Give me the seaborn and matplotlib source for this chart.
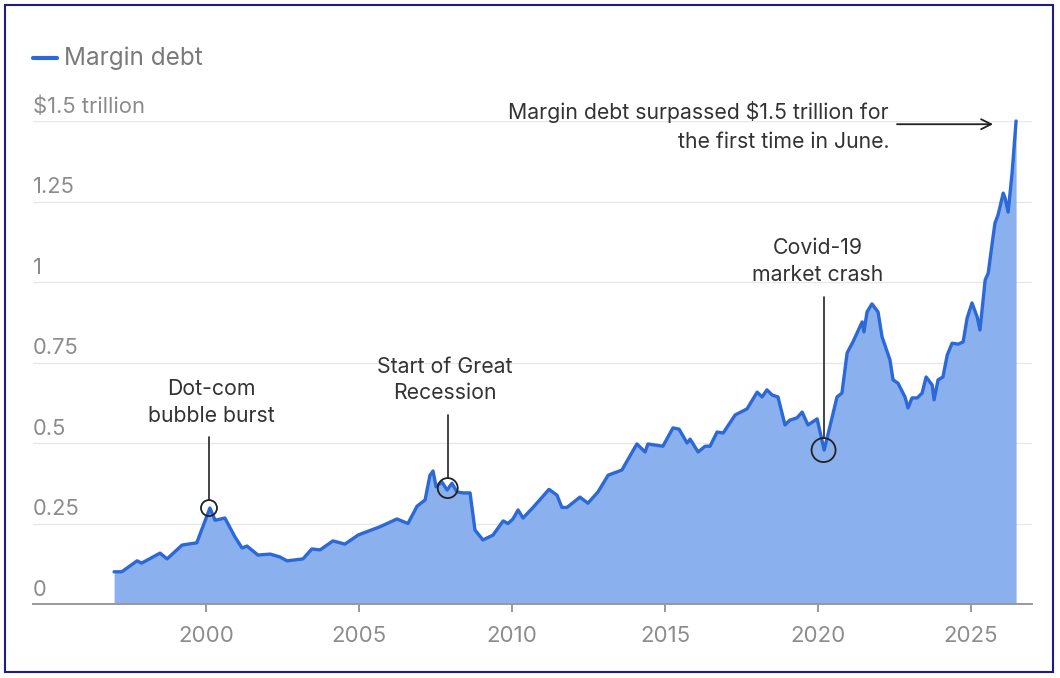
import matplotlib
matplotlib.use("Agg")
import matplotlib.pyplot as plt
import seaborn as sns
import pandas as pd
from matplotlib.patches import Rectangle

# ---- data ----
years = [1997.0, 1997.25, 1997.75, 1997.9, 1998.5, 1998.73, 1999.22, 1999.7, 2000.13, 2000.3,
         2000.62, 2000.95, 2001.18, 2001.34, 2001.7, 2002.1, 2002.42, 2002.65, 2003.17, 2003.46,
         2003.73, 2004.15, 2004.54, 2004.97, 2005.13, 2005.69, 2006.24, 2006.6, 2006.9, 2007.16,
         2007.32, 2007.42, 2007.52, 2007.71, 2007.88, 2008.04, 2008.2, 2008.4, 2008.63, 2008.79,
         2009.05, 2009.38, 2009.71, 2009.87, 2010.03, 2010.2, 2010.36, 2010.69, 2011.21, 2011.47,
         2011.63, 2011.8, 2012.22, 2012.48, 2012.81, 2013.14, 2013.59, 2014.08, 2014.35, 2014.44,
         2014.93, 2015.26, 2015.46, 2015.72, 2015.82, 2016.08, 2016.31, 2016.47, 2016.7, 2016.9,
         2017.29, 2017.68, 2018.01, 2018.17, 2018.33, 2018.5, 2018.69, 2018.92, 2019.08, 2019.31,
         2019.48, 2019.67, 2019.97, 2020.2, 2020.62, 2020.78, 2020.95, 2021.14, 2021.44, 2021.5,
         2021.6, 2021.76, 2021.96, 2022.09, 2022.35, 2022.45, 2022.61, 2022.84, 2022.94, 2023.07,
         2023.24, 2023.4, 2023.53, 2023.73, 2023.79, 2023.92, 2024.08, 2024.22, 2024.38, 2024.58,
         2024.74, 2024.87, 2025.03, 2025.2, 2025.29, 2025.46, 2025.56, 2025.69, 2025.78, 2025.88,
         2026.05, 2026.11, 2026.21, 2026.34, 2026.47]
margin_debt = [0.100, 0.100, 0.134, 0.127, 0.158, 0.140, 0.183, 0.190, 0.298, 0.260,
               0.267, 0.208, 0.174, 0.180, 0.152, 0.155, 0.146, 0.134, 0.140, 0.171,
               0.168, 0.196, 0.186, 0.214, 0.220, 0.240, 0.264, 0.250, 0.304, 0.323,
               0.400, 0.413, 0.364, 0.379, 0.354, 0.375, 0.348, 0.345, 0.345, 0.230,
               0.199, 0.214, 0.258, 0.250, 0.264, 0.292, 0.267, 0.300, 0.356, 0.338,
               0.300, 0.300, 0.332, 0.313, 0.348, 0.400, 0.416, 0.497, 0.472, 0.497,
               0.490, 0.547, 0.543, 0.500, 0.512, 0.472, 0.490, 0.490, 0.534, 0.531,
               0.587, 0.606, 0.658, 0.643, 0.665, 0.649, 0.643, 0.556, 0.571, 0.578,
               0.596, 0.556, 0.575, 0.478, 0.643, 0.655, 0.780, 0.814, 0.876, 0.845,
               0.907, 0.932, 0.907, 0.830, 0.758, 0.696, 0.686, 0.643, 0.609, 0.640,
               0.640, 0.655, 0.705, 0.680, 0.634, 0.696, 0.705, 0.773, 0.810, 0.807,
               0.814, 0.888, 0.935, 0.891, 0.851, 1.006, 1.028, 1.121, 1.183, 1.208,
               1.276, 1.261, 1.217, 1.339, 1.500]

y_ticks = [0, 0.25, 0.5, 0.75, 1, 1.25, 1.5]
y_tick_labels = ["0", "0.25", "0.5", "0.75", "1", "1.25", "$1.5 trillion"]
x_ticks = [2000, 2005, 2010, 2015, 2020, 2025]
x_tick_labels = ["2000", "2005", "2010", "2015", "2020", "2025"]

events = ["Dot-com\nbubble burst", "Start of Great\nRecession", "Covid-19\nmarket crash"]
event_x = [2000.1, 2007.9, 2020.18]
event_y = [0.298, 0.36, 0.478]

df = pd.DataFrame({"year": years, "debt": margin_debt})

# ---- style ----
sns.set_theme(style="white")
plt.rcParams["font.family"] = ["Inter", "DejaVu Sans"]

LINE = "#2b68d8"
FILL = "#8ab0ee"
GREY = "#8c8c8c"
DARK = "#333333"

fig = plt.figure(figsize=(10.6, 6.78), dpi=100)
ax = fig.add_axes([33 / 1060, 1 - 604 / 678, (1032 - 33) / 1060, (604 - 121) / 678])

ax.fill_between(df["year"], 0, df["debt"], color=FILL, linewidth=0, zorder=2)
sns.lineplot(data=df, x="year", y="debt", ax=ax, color=LINE, linewidth=2.4, zorder=3,
             clip_on=False)

ax.set_xlim(1994.35, 2026.99)
ax.set_ylim(0, 1.5)
ax.set_xlabel("")
ax.set_ylabel("")

for s in ["top", "right", "left"]:
    ax.spines[s].set_visible(False)
ax.spines["bottom"].set_color("#999999")
ax.spines["bottom"].set_linewidth(1.4)
ax.spines["bottom"].set_zorder(4)

ax.set_yticks(y_ticks)
ax.set_yticklabels([])
ax.tick_params(axis="y", length=0)
ax.yaxis.grid(True, color="#e8e8e8", linewidth=1.0, zorder=0)
ax.set_axisbelow(True)
for v, lab in zip(y_ticks, y_tick_labels):
    ax.annotate(lab, xy=(0, v), xycoords=("axes fraction", "data"), xytext=(0, 3),
                textcoords="offset points", ha="left", va="bottom", fontsize=15.8,
                color=GREY)

ax.set_xticks(x_ticks)
ax.set_xticklabels(x_tick_labels, fontsize=16, color=GREY)
ax.tick_params(axis="x", length=6, width=1.4, color="#999999", pad=10, direction="out",
               bottom=True)

# ---- annotations ----
ann_text_y = [0.626, 0.696, 1.064]
ann_text_dx = [0.08, -0.1, -0.2]
line_top = [0.52, 0.587, 0.953]
circle_px = [8, 10, 12]
for lab, ex, ey, ty, dx, lt, rp in zip(events, event_x, event_y, ann_text_y, ann_text_dx,
                                       line_top, circle_px):
    ax.text(ex + dx, ty, lab, ha="center", va="center", fontsize=15.3, color=DARK,
            linespacing=1.42, zorder=6)
    r_data = rp / 322.0
    ax.plot([ex, ex], [lt, ey + r_data], color="#222222", linewidth=1.2, zorder=6)
    d_pt = 2 * rp * 0.72
    ax.scatter([ex], [ey], s=d_pt ** 2, facecolors="none", edgecolors="#222222",
               linewidths=1.3, zorder=6)

ax.annotate("", xy=(2025.72, 1.49), xytext=(2022.58, 1.49),
            arrowprops=dict(arrowstyle="->,head_length=0.6,head_width=0.3",
                            color="#222222", lw=1.3, shrinkA=0, shrinkB=0), zorder=6)
ax.text(2022.32, 1.483, "Margin debt surpassed $1.5 trillion for\nthe first time in June.",
        ha="right", va="center", fontsize=15.3, color=DARK, linespacing=1.52, zorder=6)

# ---- legend ----
fig.add_artist(plt.Line2D([33 / 1060, 57 / 1060], [1 - 58 / 678, 1 - 58 / 678],
                          color=LINE, linewidth=3, transform=fig.transFigure))
fig.text(64 / 1060, 1 - 58 / 678, "Margin debt", ha="left", va="center", fontsize=17.5,
         color="#7a7a7a")

# ---- frame ----
fig.add_artist(Rectangle((5 / 1060, 1 - 672 / 678), 1048 / 1060, 667 / 678,
                         transform=fig.transFigure, fill=False, edgecolor="#1c1c8a",
                         linewidth=1.5))

fig.savefig("out.png", dpi=100)
